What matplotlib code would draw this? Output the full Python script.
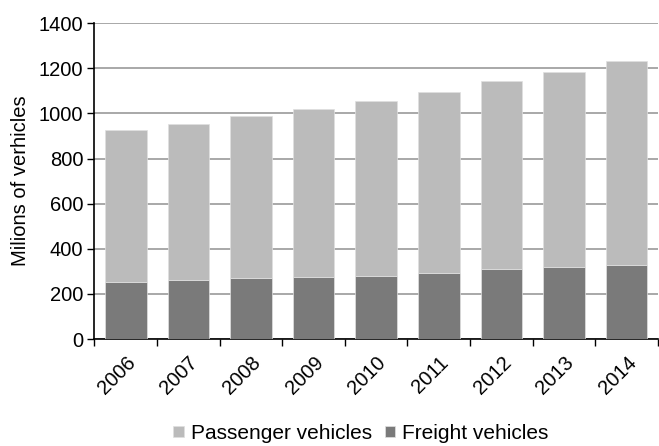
import matplotlib
matplotlib.use("Agg")
import matplotlib.pyplot as plt
import numpy as np

plt.rcParams["font.family"] = ["Liberation Sans", "DejaVu Sans"]

# ── Data ─────────────────────────────────────────────────────────────────────
years = ["2006", "2007", "2008", "2009", "2010", "2011", "2012", "2013", "2014"]
freight = [252, 260, 270, 275, 281, 291, 312, 318, 329]
total = [926, 955, 989, 1020, 1056, 1096, 1142, 1183, 1233]
passenger = [t - f for t, f in zip(total, freight)]

_PASS = "#bbbbbb"
_FREIGHT = "#7a7a7a"
_GRID = "#9a9a9a"
_FS = 14.5

fig = plt.figure(figsize=(6.59, 4.46), dpi=100)
ax = fig.add_axes([0.1433, 0.2399, 0.855, 0.7079])

x = np.arange(len(years))
ax.bar(x, freight, 0.665, color=_FREIGHT, edgecolor="#e0e0e0", linewidth=0.5,
       zorder=3, label="Freight vehicles")
ax.bar(x, passenger, 0.665, bottom=freight, color=_PASS, edgecolor="#e0e0e0",
       linewidth=0.5, zorder=3, label="Passenger vehicles")

ax.set_xlim(-0.5, len(years) - 0.5)
ax.set_ylim(0, 1400)
ax.set_yticks(range(0, 1401, 200))
ax.yaxis.grid(True, color=_GRID, linewidth=1.2, zorder=0)
ax.set_axisbelow(True)

# category labels centred, tick marks at the boundaries
ax.set_xticks(x)
ax.set_xticklabels(years, rotation=45, ha="right", rotation_mode="anchor",
                   fontsize=_FS)
ax.set_xticks(np.arange(-0.5, len(years) - 0.4, 1), minor=True)
ax.tick_params(axis="x", which="major", length=0, pad=10)
ax.tick_params(axis="x", which="minor", length=5, width=1, direction="out")
ax.tick_params(axis="y", length=5, width=1, labelsize=_FS, pad=3)

for side in ("top", "right"):
    ax.spines[side].set_visible(False)
for side in ("left", "bottom"):
    ax.spines[side].set_linewidth(1.2)

ax.set_ylabel("Milions of verhicles", fontsize=_FS, labelpad=6)

handles, labels = ax.get_legend_handles_labels()
fig.legend(handles[::-1], labels[::-1], loc="lower center",
           bbox_to_anchor=(0.548, -0.035), ncol=2, frameon=False,
           fontsize=15, handlelength=0.5, handleheight=0.5,
           handletextpad=0.35, columnspacing=0.6)

fig.savefig("out.png", dpi=100)
